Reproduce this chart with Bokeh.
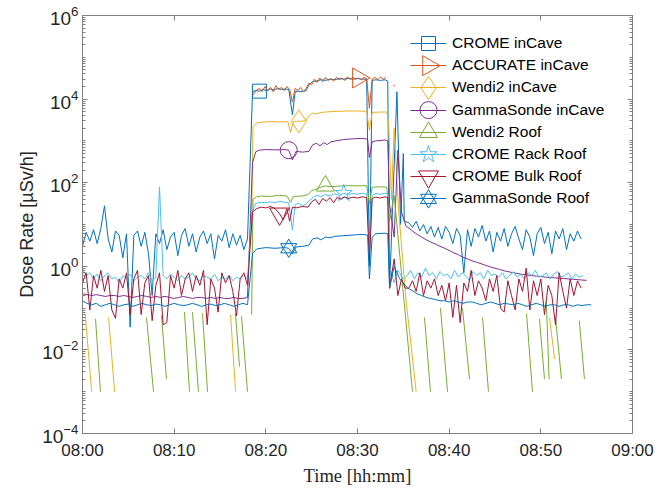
import numpy as np
from bokeh.plotting import figure
from bokeh.models import FixedTicker, LogAxis, LinearAxis, Legend, LegendItem, LogTickFormatter
from bokeh.embed import file_html
from bokeh.resources import INLINE

NAN = float("nan")

# ---- axes ----
X_TICKS = [0, 10, 20, 30, 40, 50, 60]          # minutes after 08:00
X_LABELS = ["08:00", "08:10", "08:20", "08:30", "08:40", "08:50", "09:00"]
Y_TICKS = [1e-4, 1e-2, 1e0, 1e2, 1e4, 1e6]
X_MIN, X_MAX = 0, 60
Y_MIN, Y_MAX = 1e-4, 1e6

# ---- data (time in minutes after 08:00, dose rate in uSv/h) ----
CROME_CAVE_PRE = [3.0, 6.5, 4.0, 7.5, 3.5, 8.0, 28.0, 4.5, 2.2, 7.0, 5.5, 1.6, 6.0, 0.035, 5.5, 7.0,
                  3.0, 6.5, 2.0, 0.2, 6.0, 3.5, 7.5, 2.5, 5.0, 6.5, 1.8, 5.5, 8.0, 3.0, 6.0, 2.2,
                  5.0, 7.0, 3.5, 6.0, 1.5, 5.5, 4.0, 7.5, 2.8, 6.0, 3.2, 5.5, 2.5, 4.5]
CROME_CAVE_MID = [(18.55, 1.5e4), (18.9, 1.6e4), (19.3, 1.55e4), (19.7, 1.7e4), (20.1, 1.6e4),
                  (20.5, 1.75e4), (20.9, 1.65e4), (21.3, 1.8e4), (21.7, 1.7e4), (22.1, 1.75e4),
                  (22.5, 1.7e4), (22.9, 4.2e3), (23.2, 1.5e4), (23.6, 1.55e4), (24.0, 1.5e4),
                  (24.4, 1.6e4), (24.7, 2.2e4), (25.1, 2.6e4), (25.5, 2.7e4), (26.0, 2.9e4),
                  (26.5, 2.8e4), (27.0, 3.0e4), (27.5, 2.9e4), (28.0, 3.1e4), (28.5, 3.0e4),
                  (29.0, 3.1e4), (29.5, 3.0e4), (30.0, 3.1e4), (30.5, 3.0e4), (31.0, 3.0e4),
                  (31.3, 1.0), (31.6, 2.8e4), (32.0, 2.9e4), (32.5, 2.8e4), (33.0, 2.9e4),
                  (33.3, 2.7e4), (33.5, 0.3), (34.3, 1.5e4), (34.7, 10.0), (35.0, 500.0), (35.1, 12.0)]
CROME_CAVE_POST = [11, 8.5, 12, 7, 10, 6, 9, 5, 8.5, 4.5, 9, 6.5, 3.5, 8, 5.5, 0.7, 7.5, 3.0, 8.0,
                   5.0, 9.5, 4.0, 7.0, 2.2, 6.5, 4.0, 8.0, 3.0, 6.0, 9.0, 4.5, 2.5, 7.5, 5.0, 1.8,
                   6.0, 8.5, 3.5, 6.5, 2.0, 7.0, 4.5, 8.0, 2.5, 6.0, 4.0, 7.0, 4.5]

ACCURATE_CAVE = [(18.55, 1.2e4), (18.9, 1.6e4), (19.3, 1.8e4), (19.6, 1.5e4), (19.9, 2.0e4),
                 (20.2, 1.6e4), (20.5, 1.9e4), (20.8, 1.5e4), (21.1, 2.1e4), (21.4, 1.7e4),
                 (21.7, 1.9e4), (22.0, 1.6e4), (22.3, 2.0e4), (22.6, 1.7e4), (22.9, 8.5e3),
                 (23.2, 1.8e4), (23.5, 1.6e4), (23.8, 1.9e4), (24.1, 1.5e4), (24.4, 1.8e4),
                 (24.7, 2.4e4), (25.0, 2.2e4), (25.3, 3.0e4), (25.6, 2.5e4), (25.9, 3.2e4),
                 (26.2, 2.6e4), (26.5, 3.3e4), (26.8, 2.8e4), (27.1, 3.1e4), (27.4, 2.7e4),
                 (27.7, 3.3e4), (28.0, 2.9e4), (28.3, 3.2e4), (28.6, 2.8e4), (28.9, 3.4e4),
                 (29.2, 3.0e4), (29.5, 3.3e4), (29.8, 3.0e4), (30.1, 3.2e4), (30.4, 2.9e4),
                 (30.7, 3.3e4), (31.0, 3.1e4), (31.3, 6e3), (31.6, 3.0e4), (31.9, 3.3e4),
                 (32.2, 2.9e4), (32.5, 3.4e4), (32.8, 3.0e4), (33.1, 3.3e4), (NAN, NAN),
                 (33.9, 2.2e4), (34.1, 2.0e4)]

WENDI_CAVE = [(0.3, 0.07), (1.0, 0.001), (NAN, NAN), (2.85, 0.06), (3.5, 0.001), (NAN, NAN),
              (16.15, 0.07), (16.7, 0.001), (NAN, NAN), (18.45, 10.0), (18.6, 2200), (19.0, 2700),
              (19.5, 2800), (20.5, 2900), (21.5, 2850), (22.4, 2900), (22.7, 1600), (23.0, 2900),
              (23.6, 2950), (24.3, 3000), (24.7, 4000), (25.1, 4600), (25.5, 4400), (26.0, 4800),
              (27.0, 5000), (28.0, 5100), (29.0, 5200), (30.0, 5200), (31.0, 5100), (31.3, 1800),
              (31.6, 4800), (32.5, 4900), (33.2, 4900), (33.4, 2500), (33.7, 40), (34.0, 2000),
              (34.5, 20), (35.3, 0.15), (36.4, 0.001), (NAN, NAN), (50.95, 0.06), (51.5, 0.006)]

GS_CAVE_PRE = [0.22, 0.21, 0.2, 0.21, 0.2, 0.19, 0.2, 0.2, 0.19, 0.2, 0.19, 0.18, 0.19, 0.2, 0.19,
               0.18, 0.19, 0.18, 0.19, 0.18, 0.17, 0.18, 0.19, 0.18, 0.17, 0.18, 0.18, 0.17, 0.18,
               0.17, 0.18, 0.17, 0.17, 0.18, 0.17, 0.17, 0.18]
GS_CAVE_MID = [(18.55, 300), (18.9, 550), (19.3, 600), (20.0, 620), (21.0, 610), (22.0, 620),
               (22.5, 600), (22.9, 350), (23.3, 560), (24.0, 540), (24.7, 560), (25.1, 800),
               (25.5, 880), (25.9, 760), (26.3, 900), (26.7, 820), (27.1, 950), (27.6, 1000),
               (28.5, 1080), (29.5, 1120), (30.5, 1150), (31.1, 1100), (31.3, 400), (31.6, 950),
               (32.0, 1000), (33.0, 1050), (33.3, 1000), (33.5, 30), (34.0, 5), (34.4, 600),
               (34.8, 20), (35.3, 9)]
GS_CAVE_POST = [8.5, 7.0, 5.8, 5.0, 4.3, 3.8, 3.4, 3.0, 2.7, 2.4, 2.1, 1.9, 1.65, 1.5, 1.35, 1.25,
                1.15, 1.05, 0.97, 0.9, 0.84, 0.78, 0.74, 0.7, 0.67, 0.64, 0.62, 0.6, 0.58, 0.57,
                0.55, 0.54, 0.53, 0.52, 0.51, 0.5, 0.49, 0.48, 0.47, 0.46]

WENDI_ROOF = [(1.42, 0.055), (1.96, 0.001), (NAN, NAN), (6.98, 0.06), (7.75, 0.001), (NAN, NAN),
              (8.62, 0.067), (9.16, 0.002), (NAN, NAN), (11.13, 0.08), (11.67, 0.001), (NAN, NAN),
              (12.0, 0.08), (12.65, 0.001), (NAN, NAN), (13.09, 0.075), (13.64, 0.001), (NAN, NAN),
              (16.69, 0.075), (17.13, 0.004), (NAN, NAN), (17.35, 0.063), (18.0, 0.001), (NAN, NAN),
              (18.45, 0.07), (18.6, 40), (19.0, 46), (19.5, 48), (20.5, 47), (21.5, 50), (22.3, 48),
              (22.7, 34), (23.0, 47), (24.0, 48), (24.6, 52), (25.0, 65), (25.5, 70), (26.0, 78),
              (26.5, 84), (27.0, 80), (28.0, 83), (29.0, 85), (30.0, 84), (31.0, 85), (31.3, 32),
              (31.6, 78), (32.5, 80), (33.2, 78), (33.5, 12), (34.0, 50), (36.0, 0.001), (NAN, NAN),
              (37.31, 0.06), (37.96, 0.001), (NAN, NAN), (39.05, 0.1), (39.82, 0.001), (NAN, NAN),
              (41.45, 0.1), (42.22, 0.002), (NAN, NAN), (43.64, 0.06), (44.29, 0.001), (NAN, NAN),
              (48.44, 0.075), (49.09, 0.001), (NAN, NAN), (49.85, 0.055), (50.4, 0.002), (NAN, NAN),
              (50.6, 0.15), (50.9, 0.002), (NAN, NAN), (51.6, 0.06), (52.25, 0.002), (NAN, NAN),
              (54.2, 0.05), (54.76, 0.002)]

RACK_PRE = [0.8, 0.6, 0.7, 0.5, 0.65, 0.45, 0.6, 0.7, 0.5, 0.55, 0.4, 0.6, 0.5, 0.65, 0.45, 0.55,
            0.6, 0.5, 0.7, 0.45, 0.55, 80, 0.6, 0.5, 0.65, 0.55, 0.45, 0.6, 0.5, 0.55, 0.7, 0.5,
            0.45, 0.6, 0.55, 0.5, 0.65, 0.45, 0.55, 0.5, 0.6, 0.45, 0.55, 0.5, 0.6, 0.5]
RACK_MID = [(18.5, 20), (18.9, 32), (19.5, 34), (20.0, 33), (20.5, 35), (21.0, 33), (21.5, 36),
            (22.0, 34), (22.5, 33), (22.9, 7.3), (23.2, 30), (23.6, 32), (24.0, 28), (24.4, 31),
            (24.8, 38), (25.2, 45), (25.6, 50), (26.0, 46), (26.5, 52), (27.0, 48), (27.5, 55),
            (28.0, 50), (28.5, 56), (29.0, 52), (29.5, 55), (30.0, 53), (30.5, 56), (31.0, 54),
            (31.3, 2.0), (31.6, 50), (32.0, 55), (32.5, 53), (33.0, 56), (33.3, 54), (33.5, 1.0),
            (34.0, 0.4), (34.4, 0.8), (35.0, 0.5)]
RACK_POST = [0.6, 0.8, 0.5, 0.7, 0.55, 0.9, 0.6, 0.7, 0.5, 0.75, 0.6, 0.65, 0.5, 0.8, 0.55, 0.7,
             0.6, 0.45, 0.75, 0.6, 0.7, 0.5, 0.8, 0.6, 0.65, 0.55, 0.7, 0.5, 0.6, 0.75, 0.55, 0.65,
             0.5, 0.7, 0.6, 0.8, 0.55, 0.6, 0.7, 0.5, 0.65, 0.75, 0.55, 0.6, 0.7, 0.5, 0.65, 0.55, 0.6]

BULK_PRE = [0.4, 0.7, 0.09, 0.6, 0.3, 0.8, 0.25, 0.6, 0.09, 0.057, 0.5, 0.3, 0.7, 0.07, 0.5, 0.8,
            0.07, 0.4, 0.6, 0.05, 0.35, 0.7, 0.04, 0.045, 0.6, 0.3, 0.8, 0.2, 0.5, 0.7, 0.25, 0.6,
            0.35, 0.8, 0.04, 0.5, 0.3, 0.08, 0.7, 0.4, 0.6, 0.25, 0.065, 0.5, 0.7, 0.35]
BULK_MID = [(18.55, 20), (19.0, 24), (19.5, 26), (20.0, 25), (20.5, 27), (21.0, 24), (21.5, 18),
            (21.9, 13), (22.3, 24), (22.6, 12), (22.9, 26), (23.3, 25), (24.0, 27), (24.6, 26),
            (25.0, 35), (25.4, 40), (25.8, 30), (26.2, 42), (26.6, 36), (27.0, 44), (27.4, 33),
            (27.8, 45), (28.2, 40), (28.6, 46), (29.0, 42), (29.5, 45), (30.0, 43), (30.5, 46),
            (31.0, 44), (31.3, 1.4), (31.6, 42), (32.0, 45), (32.5, 43), (33.0, 46), (33.3, 44),
            (33.5, 0.3), (34.0, 1.5), (34.4, 0.2), (34.8, 0.5), (35.2, 0.3)]
BULK_POST = [0.3, 0.45, 0.25, 0.7, 0.2, 0.45, 0.3, 0.5, 0.2, 0.35, 0.15, 0.4, 0.06, 0.35, 0.045,
             0.4, 0.25, 0.8, 0.2, 0.45, 0.3, 0.15, 0.5, 0.25, 0.6, 0.1, 0.08, 0.45, 0.2, 0.09, 0.5,
             0.25, 0.9, 0.09, 0.45, 0.2, 0.5, 0.07, 0.35, 0.2, 0.04, 0.7, 0.25, 0.1, 0.5, 0.2, 0.45, 0.3]

GS_ROOF_PRE = [0.15, 0.13, 0.12, 0.13, 0.11, 0.12, 0.13, 0.12, 0.11, 0.12, 0.125, 0.11, 0.12, 0.13,
               0.12, 0.115, 0.125, 0.12, 0.11, 0.12, 0.13, 0.12, 0.115, 0.12, 0.13, 0.12, 0.11,
               0.12, 0.125, 0.115, 0.12, 0.13, 0.12, 0.11, 0.12, 0.13, 0.12]
GS_ROOF_MID = [(18.55, 2.0), (19.0, 2.6), (19.5, 2.7), (20.0, 2.8), (21.0, 2.7), (22.0, 2.8),
               (22.5, 2.7), (22.9, 2.0), (23.3, 2.9), (24.0, 3.0), (24.7, 3.2), (25.1, 4.5),
               (25.6, 4.8), (26.0, 4.3), (26.5, 5.0), (27.0, 4.8), (27.5, 5.2), (28.5, 5.4),
               (29.5, 5.6), (30.5, 5.8), (31.1, 5.6), (31.3, 0.5), (31.6, 5.0), (32.0, 6.0),
               (33.0, 6.2), (33.3, 6.0), (33.5, 0.3), (34.0, 1.0), (34.6, 0.5), (35.2, 0.35)]
GS_ROOF_POST = [0.3, 0.26, 0.22, 0.2, 0.18, 0.17, 0.16, 0.15, 0.15, 0.14, 0.15, 0.14, 0.13, 0.14,
                0.14, 0.13, 0.12, 0.13, 0.14, 0.13, 0.12, 0.13, 0.125, 0.12, 0.13, 0.12, 0.11, 0.12,
                0.13, 0.12, 0.11, 0.12, 0.12, 0.11, 0.12, 0.12, 0.11, 0.12, 0.115, 0.12, 0.12]


def sampled(start, step, vals):
    return [(start + step * i, v) for i, v in enumerate(vals)]


def series(*parts):
    pts = [p for part in parts for p in part]
    return [p[0] for p in pts], [p[1] for p in pts]


SERIES = [
    # name, color, data, marker time, markers (type, size, angle)
    ("CROME inCave", "#0072BD",
     series(sampled(0.0, 0.4, CROME_CAVE_PRE), CROME_CAVE_MID, sampled(35.6, 0.4, CROME_CAVE_POST)),
     19.3, [("square", 14, 0)]),
    ("ACCURATE inCave", "#D95319", series(ACCURATE_CAVE), 30.1, [("triangle", 20, -np.pi / 2)]),
    ("Wendi2 inCave", "#EDB120", series(WENDI_CAVE), 23.6, [("diamond", 23, 0)]),
    ("GammaSonde inCave", "#7E2F8E",
     series(sampled(0.0, 0.5, GS_CAVE_PRE), GS_CAVE_MID, sampled(35.5, 0.5, GS_CAVE_POST)),
     22.5, [("circle", 17, 0)]),
    ("Wendi2 Roof", "#77AC30", series(WENDI_ROOF), 26.5, [("triangle", 18, 0)]),
    ("CROME Rack Roof", "#4DBEEE",
     series(sampled(0.0, 0.4, RACK_PRE), RACK_MID, sampled(35.4, 0.4, RACK_POST)),
     28.5, [("star", 18, 0)]),
    ("CROME Bulk Roof", "#A2142F",
     series(sampled(0.0, 0.4, BULK_PRE), BULK_MID, sampled(35.6, 0.4, BULK_POST)),
     21.5, [("inverted_triangle", 20, 0)]),
    ("GammaSonde Roof", "#0072BD",
     series(sampled(0.0, 0.5, GS_ROOF_PRE), GS_ROOF_MID, sampled(35.5, 0.5, GS_ROOF_POST)),
     22.5, [("triangle", 16, 0), ("inverted_triangle", 16, 0)]),
]

AX = "#262626"
FRAME = "#808080"

# page layout (px)
FRAME_LEFT, FRAME_RIGHT, FRAME_TOP, FRAME_BOTTOM = 82, 632, 15, 433
W, H = 664, 488

p = figure(width=W, height=H, x_range=(X_MIN, X_MAX), y_range=(Y_MIN, Y_MAX), y_axis_type="log",
           output_backend="svg", toolbar_location=None,
           min_border_left=FRAME_LEFT, min_border_right=W - FRAME_RIGHT,
           min_border_top=FRAME_TOP, min_border_bottom=H - FRAME_BOTTOM)
p.background_fill_color = "white"
p.border_fill_color = "white"
p.outline_line_color = FRAME
p.xgrid.visible = False
p.ygrid.visible = False

xticker = FixedTicker(ticks=X_TICKS)
minor = [m * 10.0 ** k for k in range(-4, 6) for m in range(1, 10) if not (m == 1 and k % 2 == 0)]
yticker = FixedTicker(ticks=Y_TICKS, minor_ticks=minor)


def style_axis(ax, labels=True):
    ax.axis_line_color = FRAME
    ax.major_tick_line_color = FRAME
    ax.minor_tick_line_color = FRAME
    ax.major_tick_in = 5
    ax.major_tick_out = 0
    ax.minor_tick_in = 3
    ax.minor_tick_out = 0
    ax.major_label_text_color = AX
    ax.major_label_text_font = "Liberation Sans"
    if not labels:
        ax.major_label_text_font_size = "0px"
        ax.major_label_text_alpha = 0


xa = p.xaxis[0]
xa.ticker = xticker
xa.major_label_overrides = {t: l for t, l in zip(X_TICKS, X_LABELS)}
style_axis(xa)
xa.major_label_text_font_size = "17px"
xa.major_label_standoff = 7
xa.axis_label = "Time [hh:mm]"
xa.axis_label_text_font = "Liberation Serif"
xa.axis_label_text_font_style = "normal"
xa.axis_label_text_font_size = "18.5px"
xa.axis_label_text_color = AX
xa.axis_label_standoff = 3

ya = p.yaxis[0]
ya.ticker = yticker
ya.formatter = LogTickFormatter()
style_axis(ya)
ya.major_label_text_font_size = "19px"
ya.major_label_standoff = 4
ya.axis_label = "Dose Rate [\u00b5Sv/h]"
ya.axis_label_text_font = "Liberation Sans"
ya.axis_label_text_font_style = "normal"
ya.axis_label_text_font_size = "18px"
ya.axis_label_text_color = AX
ya.axis_label_standoff = 2

ra = LogAxis(ticker=yticker)
style_axis(ra, labels=False)
p.add_layout(ra, "right")
ta = LinearAxis(ticker=xticker)
style_axis(ta, labels=False)
p.add_layout(ta, "above")

# legend layout: one single-entry legend per series so rows can be packed tightly;
# the legend symbols are drawn as scatter glyphs at the legend row centres so that
# they keep their size and orientation (e.g. the right-pointing triangle)
GLYPH_W, GLYPH_H = 36, 22
ROW_TOP = 43        # centre of first legend row, px from the top of the page
ROW_STEP = 22.2
LEGEND_X = 410


def page_to_data(px, py):
    fx = (px - FRAME_LEFT) / (FRAME_RIGHT - FRAME_LEFT)
    fy = (FRAME_BOTTOM - py) / (FRAME_BOTTOM - FRAME_TOP)
    x = X_MIN + fx * (X_MAX - X_MIN)
    y = 10 ** (np.log10(Y_MIN) + fy * (np.log10(Y_MAX) - np.log10(Y_MIN)))
    return x, y


for k, (name, color, (t, v), mt, markers) in enumerate(SERIES):
    rl = p.line(t, v, line_color=color, line_width=1)
    tarr = np.array(t, dtype=float)
    i = int(np.nanargmin(np.abs(tarr - mt)))
    centre = ROW_TOP + ROW_STEP * k
    lx, ly = page_to_data(LEGEND_X + GLYPH_W / 2, centre)
    for mk, sz, ang in markers:
        p.scatter([t[i]], [v[i]], marker=mk, size=sz, angle=ang,
                  line_color=color, line_width=1, fill_alpha=0)
        p.scatter([lx], [ly], marker=mk, size=sz, angle=ang,
                  line_color=color, line_width=1, fill_alpha=0)
    bottom_from_frame_bottom = FRAME_BOTTOM - (centre + GLYPH_H / 2)
    lg = Legend(items=[LegendItem(label=name, renderers=[rl])],
                location=(LEGEND_X - FRAME_LEFT, bottom_from_frame_bottom),
                glyph_width=GLYPH_W, glyph_height=GLYPH_H, label_height=GLYPH_H,
                label_standoff=6, padding=0, margin=0, border_line_alpha=0,
                background_fill_alpha=0, label_text_font="Liberation Sans",
                label_text_font_size="15.5px", label_text_color="#000000")
    p.add_layout(lg)

open("out.html", "w").write(file_html(p, INLINE))
